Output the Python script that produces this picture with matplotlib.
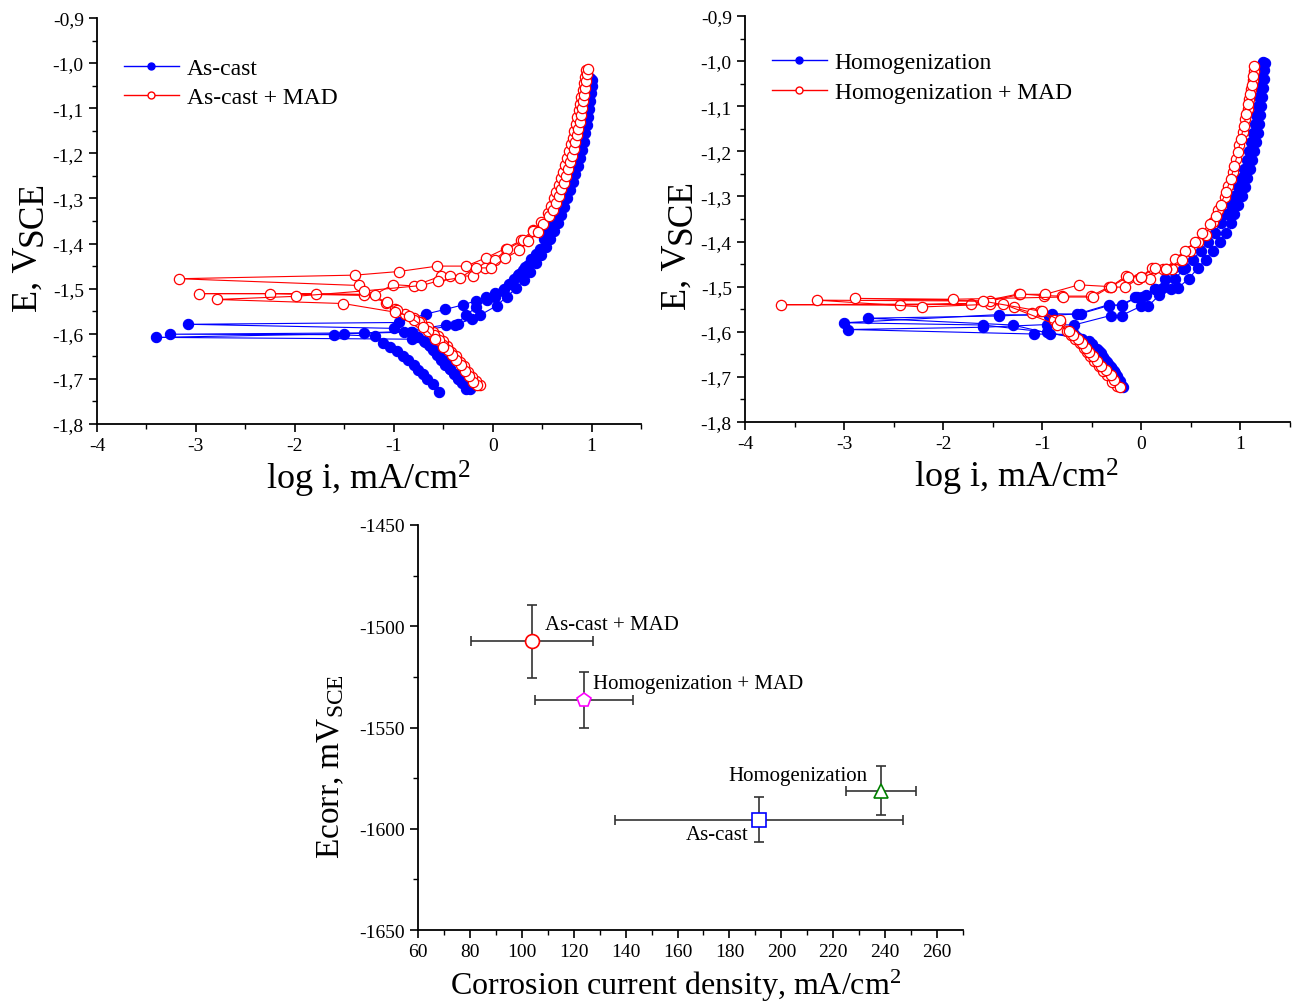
import matplotlib
matplotlib.use("Agg")
import matplotlib.pyplot as plt
from matplotlib.lines import Line2D

plt.rcParams['font.family'] = ['Liberation Serif', 'DejaVu Serif']
plt.rcParams['mathtext.fontset'] = 'custom'
plt.rcParams['mathtext.rm'] = 'Liberation Serif'
plt.rcParams['mathtext.it'] = 'Liberation Serif:italic'

# ---------------- Data: As-cast (blue) ----------------
ascast_run1_logi = [-0.27, -0.31, -0.34, -0.38, -0.43, -0.46, -0.50, -0.54, -0.59, -0.63, -0.68, -0.75, -0.83, -1.0, -3.08,
                    -0.95, -0.67, -0.48, -0.30, -0.17, -0.07, 0.02, 0.11, 0.17, 0.22, 0.27, 0.31, 0.36, 0.40, 0.44, 0.48,
                    0.52, 0.55, 0.585, 0.615, 0.645, 0.67, 0.695, 0.72, 0.745, 0.77, 0.79, 0.81, 0.83, 0.845, 0.86, 0.875,
                    0.89, 0.905, 0.92, 0.93, 0.94, 0.95, 0.96, 0.97, 0.985]
ascast_run1_E = [-1.722, -1.710, -1.700, -1.689, -1.678, -1.668, -1.659, -1.648, -1.637, -1.627, -1.618, -1.607, -1.596, -1.588, -1.579,
                 -1.575, -1.556, -1.546, -1.536, -1.527, -1.518, -1.509, -1.500, -1.489, -1.478, -1.468, -1.459, -1.448, -1.437, -1.424, -1.411,
                 -1.389, -1.375, -1.360, -1.345, -1.330, -1.315, -1.300, -1.285, -1.270, -1.255, -1.240, -1.225, -1.210, -1.195, -1.180, -1.165,
                 -1.150, -1.135, -1.120, -1.105, -1.090, -1.075, -1.060, -1.045, -1.033]

ascast_run2_logi = [-0.54, -0.60, -0.66, -0.70, -0.75, -0.80, -0.86, -0.91, -0.97, -1.04, -1.11, -1.19, -1.6, -3.26,
                    -1.3, -0.90, -0.47, -0.35, -0.21, -0.13, 0.04, 0.14, 0.24, 0.32, 0.38, 0.44, 0.49, 0.54, 0.58, 0.62,
                    0.66, 0.69, 0.725, 0.755, 0.785, 0.81, 0.835, 0.86, 0.88, 0.90, 0.92, 0.935, 0.95, 0.965, 0.975,
                    0.985, 0.995, 1.0, 1.005]
ascast_run2_E = [-1.728, -1.712, -1.700, -1.690, -1.681, -1.670, -1.659, -1.649, -1.639, -1.630, -1.620, -1.605, -1.602, -1.601,
                 -1.598, -1.595, -1.580, -1.578, -1.567, -1.559, -1.538, -1.518, -1.499, -1.480, -1.462, -1.444, -1.426, -1.408, -1.390, -1.372,
                 -1.354, -1.336, -1.318, -1.300, -1.282, -1.264, -1.246, -1.228, -1.210, -1.192, -1.174, -1.156, -1.138, -1.120, -1.102,
                 -1.084, -1.066, -1.050, -1.038]

ascast_run3_logi = [-0.23, -0.28, -0.35, -0.39, -0.43, -0.48, -0.52, -0.56, -0.60, -0.64, -0.69, -0.82, -3.40,
                    -1.5, -0.82, -0.38, -0.27, -0.165, -0.06, 0.02, 0.10, 0.19, 0.26, 0.33, 0.39]
ascast_run3_E = [-1.722, -1.712, -1.700, -1.690, -1.679, -1.669, -1.659, -1.648, -1.637, -1.626, -1.615, -1.612, -1.608,
                 -1.600, -1.596, -1.581, -1.559, -1.541, -1.525, -1.518, -1.505, -1.489, -1.470, -1.452, -1.435]

# ---------------- Data: As-cast + MAD (red) ----------------
ascast_mad_run1_logi = [-0.13, -0.17, -0.21, -0.25, -0.29, -0.33, -0.37, -0.42, -0.46, -0.50, -0.55, -0.60, -0.65, -0.72,
                        -0.80, -0.89, -0.99, -1.08, -1.35, -3.17,
                        -1.39, -0.95, -0.56, -0.27, -0.07, 0.13, 0.29, 0.41, 0.49, 0.56, 0.59, 0.62, 0.645, 0.67, 0.69,
                        0.71, 0.735, 0.755, 0.775, 0.79, 0.81, 0.825, 0.84, 0.855, 0.87, 0.885, 0.895, 0.91, 0.92, 0.93, 0.94]
ascast_mad_run1_E = [-1.713, -1.705, -1.695, -1.684, -1.672, -1.662, -1.650, -1.640, -1.628, -1.617, -1.606, -1.595, -1.585, -1.575,
                     -1.566, -1.556, -1.546, -1.531, -1.493, -1.478,
                     -1.470, -1.462, -1.450, -1.450, -1.432, -1.411, -1.393, -1.370, -1.352, -1.333, -1.316, -1.300, -1.285, -1.270, -1.255,
                     -1.241, -1.225, -1.210, -1.195, -1.180, -1.165, -1.150, -1.135, -1.120, -1.105, -1.090, -1.075, -1.060, -1.045, -1.030, -1.015]

ascast_mad_run2_logi = [-0.16, -0.20, -0.24, -0.28, -0.32, -0.37, -0.41, -0.45, -0.50, -0.54, -0.59, -0.65, -0.74, -0.80,
                        -0.97, -1.07, -1.30, -2.25, -2.97,
                        -1.79, -1.19, -1.01, -0.80, -0.52, -0.43, -0.20, -0.08, 0.02, 0.14, 0.31, 0.41, 0.51, 0.57,
                        0.61, 0.64, 0.67, 0.695, 0.72, 0.74, 0.76, 0.78, 0.80, 0.82, 0.835, 0.85, 0.865, 0.88, 0.895,
                        0.905, 0.915, 0.925, 0.935, 0.945, 0.955, 0.96]
ascast_mad_run2_E = [-1.713, -1.707, -1.694, -1.682, -1.670, -1.658, -1.648, -1.637, -1.626, -1.614, -1.603, -1.593, -1.574, -1.570,
                     -1.548, -1.530, -1.515, -1.511, -1.511,
                     -1.511, -1.513, -1.491, -1.494, -1.472, -1.472, -1.472, -1.454, -1.437, -1.413, -1.393, -1.373, -1.356, -1.340,
                     -1.325, -1.310, -1.295, -1.280, -1.265, -1.250, -1.235, -1.220, -1.205, -1.190, -1.175, -1.160, -1.145, -1.130, -1.115,
                     -1.100, -1.085, -1.070, -1.055, -1.040, -1.025, -1.012]

ascast_mad_run3_logi = [-0.50, -0.58, -0.70, -0.85, -0.99, -1.51, -2.79, -1.99, -1.30, -0.72, -0.55, -0.33, -0.17,
                        -0.013, 0.12, 0.27, 0.36, 0.46]
ascast_mad_run3_E = [-1.630, -1.612, -1.585, -1.560, -1.552, -1.533, -1.524, -1.517, -1.505, -1.493, -1.483, -1.476, -1.454,
                     -1.454, -1.433, -1.415, -1.395, -1.374]

# ---------------- Data: Homogenization (blue) ----------------
homog_run1_logi = [-0.18, -0.22, -0.25, -0.28, -0.31, -0.35, -0.39, -0.43, -0.48, -0.53, -0.63, -0.95, -1.6, -3.0,
                   -1.44, -0.935, -0.61, -0.33, -0.20, -0.06, 0.05, 0.14, 0.23, 0.34, 0.44, 0.52, 0.60, 0.67, 0.74,
                   0.80, 0.85, 0.90, 0.94, 0.98, 1.01, 1.04, 1.065, 1.09, 1.11, 1.13, 1.145, 1.16, 1.175, 1.185, 1.195,
                   1.205, 1.215, 1.225]
homog_run1_E = [-1.722, -1.710, -1.697, -1.688, -1.679, -1.668, -1.655, -1.642, -1.635, -1.620, -1.616, -1.601, -1.585, -1.580,
                -1.562, -1.564, -1.560, -1.542, -1.540, -1.524, -1.519, -1.505, -1.500, -1.482, -1.459, -1.440, -1.420, -1.400, -1.380,
                -1.360, -1.340, -1.320, -1.300, -1.280, -1.260, -1.240, -1.220, -1.200, -1.180, -1.160, -1.140, -1.120, -1.100, -1.080, -1.060,
                -1.040, -1.020, -1.003]

homog_run2_logi = [-0.20, -0.24, -0.27, -0.30, -0.33, -0.37, -0.41, -0.45, -0.50, -0.60, -0.68, -1.085, -2.96,
                   -1.6, -0.95, -0.68, -0.31, -0.20, 0.0, 0.07, 0.18, 0.30, 0.37, 0.48, 0.57, 0.65, 0.72, 0.79, 0.85,
                   0.90, 0.94, 0.98, 1.015, 1.045, 1.07, 1.095, 1.12, 1.14, 1.16, 1.175, 1.19, 1.20, 1.21, 1.22, 1.23,
                   1.235, 1.24, 1.245]
homog_run2_E = [-1.720, -1.704, -1.692, -1.683, -1.673, -1.662, -1.648, -1.638, -1.627, -1.617, -1.606, -1.605, -1.595,
                -1.590, -1.584, -1.585, -1.564, -1.564, -1.543, -1.543, -1.519, -1.505, -1.503, -1.482, -1.459, -1.440, -1.420, -1.400, -1.380,
                -1.360, -1.340, -1.320, -1.300, -1.280, -1.260, -1.240, -1.220, -1.200, -1.180, -1.160, -1.140, -1.120, -1.100, -1.080, -1.060,
                -1.040, -1.020, -1.005]

homog_run3_logi = [-0.45, -0.52, -0.65, -0.92, -1.3, -2.76, -1.44, -0.90, -0.65, -0.33, -0.20, -0.04, 0.004, 0.14, 0.20,
                   0.24, 0.42]
homog_run3_E = [-1.640, -1.625, -1.612, -1.604, -1.585, -1.570, -1.565, -1.560, -1.561, -1.540, -1.542, -1.523, -1.524, -1.505,
                -1.505, -1.483, -1.461]

# ---------------- Data: Homogenization + MAD (red) ----------------
homog_mad_run1_logi = [-0.25, -0.30, -0.35, -0.39, -0.43, -0.48, -0.52, -0.55, -0.58, -0.62, -0.67, -0.71, -0.75, -0.82,
                       -0.88, -1.02, -1.10, -1.29, -1.53, -3.64,
                       -2.44, -1.72, -1.236, -0.985, -0.80, -0.51, -0.33, -0.16, -0.03, 0.087, 0.22, 0.305, 0.39, 0.49,
                       0.57, 0.65, 0.72, 0.774, 0.84, 0.874, 0.925, 0.958, 0.99, 1.025, 1.05, 1.075, 1.09, 1.11, 1.125, 1.135]
homog_mad_run1_E = [-1.720, -1.712, -1.696, -1.686, -1.675, -1.664, -1.653, -1.644, -1.635, -1.626, -1.616, -1.607, -1.598, -1.579,
                    -1.575, -1.555, -1.558, -1.546, -1.538, -1.540,
                    -1.541, -1.538, -1.516, -1.520, -1.521, -1.521, -1.501, -1.501, -1.482, -1.482, -1.461, -1.461, -1.442, -1.420,
                    -1.400, -1.385, -1.357, -1.331, -1.302, -1.276, -1.246, -1.217, -1.187, -1.158, -1.128, -1.106, -1.084, -1.062, -1.043, -1.021]

homog_mad_run2_logi = [-0.22, -0.28, -0.31, -0.36, -0.41, -0.45, -0.49, -0.53, -0.56, -0.60, -0.64, -0.69, -0.73, -0.85,
                       -1.40, -2.21, -3.27,
                       -1.53, -1.22, -0.97, -0.63, -0.31, -0.15, 0.0, 0.104, 0.25, 0.34, 0.44, 0.54, 0.61, 0.69, 0.75,
                       0.80, 0.855, 0.90, 0.94, 0.975, 1.005, 1.035, 1.06, 1.08, 1.10, 1.115, 1.13, 1.14]
homog_mad_run2_E = [-1.722, -1.708, -1.696, -1.685, -1.675, -1.664, -1.653, -1.644, -1.635, -1.626, -1.616, -1.607, -1.598, -1.585,
                    -1.538, -1.545, -1.530,
                    -1.532, -1.517, -1.517, -1.496, -1.500, -1.476, -1.478, -1.459, -1.460, -1.439, -1.420, -1.402, -1.380, -1.361, -1.344,
                    -1.318, -1.290, -1.262, -1.232, -1.202, -1.172, -1.143, -1.117, -1.095, -1.073, -1.052, -1.032, -1.012]

homog_mad_run3_logi = [-0.82, -1.0, -1.6, -2.89, -1.9, -0.79, -0.49, -0.31, -0.13, 0.0, 0.14, 0.25, 0.41]
homog_mad_run3_E = [-1.575, -1.555, -1.532, -1.526, -1.528, -1.523, -1.523, -1.500, -1.478, -1.478, -1.458, -1.460, -1.441]

# ---------------- Data: summary (bottom) ----------------
summary_labels = ["As-cast + MAD", "Homogenization + MAD", "Homogenization", "As-cast"]
summary_icorr = [104.0, 123.9, 238.4, 191.4]
summary_icorr_err = [23.5, 19.0, 13.4, 55.5]
summary_ecorr = [-1507.4, -1536.4, -1581.2, -1595.5]
summary_ecorr_err = [18.0, 14.0, 12.0, 11.0]
summary_markers = ['o', 'p', '^', 's']
summary_colors = ['#ff0000', '#ff00ff', '#008000', '#0000ff']

# tick values / labels
e_ticks = [-0.9, -1.0, -1.1, -1.2, -1.3, -1.4, -1.5, -1.6, -1.7, -1.8]
e_tick_labels = ["-0,9", "-1,0", "-1,1", "-1,2", "-1,3", "-1,4", "-1,5", "-1,6", "-1,7", "-1,8"]
logi_ticks = [-4, -3, -2, -1, 0, 1]
logi_tick_labels = ["-4", "-3", "-2", "-1", "0", "1"]
ecorr_ticks = [-1450, -1500, -1550, -1600, -1650]
ecorr_tick_labels = ["-1450", "-1500", "-1550", "-1600", "-1650"]
icorr_ticks = [60, 80, 100, 120, 140, 160, 180, 200, 220, 240, 260]
icorr_tick_labels = [str(v) for v in icorr_ticks]

BLUE = '#0000ff'
RED = '#ff0000'
TICK_FS = 14
W, H = 1295, 1004

fig = plt.figure(figsize=(12.95, 10.04), dpi=100)


def style_axes(ax):
    for s in ['top', 'right']:
        ax.spines[s].set_visible(False)
    for s in ['left', 'bottom']:
        ax.spines[s].set_linewidth(1.3)
    ax.tick_params(which='major', direction='out', length=6, width=1.2, labelsize=TICK_FS)
    ax.tick_params(which='minor', direction='out', length=3.5, width=1.0)


def polar_axes(rect, blue_runs, red_runs, labels, leg_anchor, spacing):
    ax = fig.add_axes(rect)
    for lx, ey in blue_runs:
        ax.plot(lx, ey, '-', color=BLUE, lw=0.8, marker='o', ms=7.4,
                mfc=BLUE, mec=BLUE, mew=0.8)
    for lx, ey in red_runs:
        ax.plot(lx, ey, '-', color=RED, lw=0.8, marker='o', ms=7.4,
                mfc='white', mec=RED, mew=0.9)
    ax.set_xlim(-4, 1.495)
    ax.set_ylim(-1.8, -0.9)
    ax.set_xticks(logi_ticks)
    ax.set_xticklabels(logi_tick_labels)
    ax.set_xticks([-3.5, -2.5, -1.5, -0.5, 0.5, 1.5], minor=True)
    ax.set_yticks(e_ticks)
    ax.set_yticklabels(e_tick_labels)
    ax.set_yticks([-0.95, -1.05, -1.15, -1.25, -1.35, -1.45, -1.55, -1.65, -1.75], minor=True)
    style_axes(ax)
    handles = [Line2D([], [], color=BLUE, lw=1.0, marker='o', ms=5, mfc=BLUE, mec=BLUE),
               Line2D([], [], color=RED, lw=1.0, marker='o', ms=5, mfc='white', mec=RED)]
    ax.legend(handles, labels, loc='upper left', bbox_to_anchor=leg_anchor, frameon=False,
              fontsize=17, handlelength=2.3, handletextpad=0.35, borderpad=0, borderaxespad=0,
              labelspacing=spacing)
    return ax


ax1 = polar_axes([0.0749, 0.5767, 0.4201, 0.4044],
                 [(ascast_run1_logi, ascast_run1_E), (ascast_run2_logi, ascast_run2_E),
                  (ascast_run3_logi, ascast_run3_E)],
                 [(ascast_mad_run1_logi, ascast_mad_run1_E), (ascast_mad_run2_logi, ascast_mad_run2_E),
                  (ascast_mad_run3_logi, ascast_mad_run3_E)],
                 ["As-cast", "As-cast + MAD"], (0.05, 0.903), 0.33)

ax2 = polar_axes([0.5753, 0.5787, 0.4208, 0.4044],
                 [(homog_run1_logi, homog_run1_E), (homog_run2_logi, homog_run2_E),
                  (homog_run3_logi, homog_run3_E)],
                 [(homog_mad_run1_logi, homog_mad_run1_E), (homog_mad_run2_logi, homog_mad_run2_E),
                  (homog_mad_run3_logi, homog_mad_run3_E)],
                 ["Homogenization", "Homogenization + MAD"], (0.05, 0.913), 0.37)


def vlabel_two_part(x_px, y_bottom_px, main, sub, fs_main, fs_sub, dx):
    t1 = fig.text(x_px / W, 1 - y_bottom_px / H, main, rotation=90, ha='center', va='bottom',
                  fontsize=fs_main)
    fig.canvas.draw()
    bb = t1.get_window_extent()
    fig.text((x_px + dx) / W, (bb.y1 + 1) / H, sub, rotation=90, ha='center', va='bottom',
             fontsize=fs_sub)


# axis labels of top panels
vlabel_two_part(28, 312, 'E, V', 'SCE', 26, 25.5, 5)
vlabel_two_part(677, 310, 'E, V', 'SCE', 26, 25.5, 5)
fig.text(369 / W, 1 - 479 / H, r'log i, mA/cm$^{2}$', ha='center', va='center', fontsize=26)
fig.text(1017 / W, 1 - 477 / H, r'log i, mA/cm$^{2}$', ha='center', va='center', fontsize=26)

# ---------------- bottom panel ----------------
ax3 = fig.add_axes([0.3228, 0.0727, 0.4208, 0.4034])
for i in range(len(summary_labels)):
    ax3.errorbar(summary_icorr[i], summary_ecorr[i], xerr=summary_icorr_err[i], yerr=summary_ecorr_err[i],
                 fmt='none', ecolor='#333333', elinewidth=1.2, capsize=3.5, capthick=1.2, zorder=2)
    ax3.plot(summary_icorr[i], summary_ecorr[i], linestyle='none', marker=summary_markers[i], ms=10,
             mfc='white', mec=summary_colors[i], mew=1.2, zorder=3)

ax3.text(108.9, -1498.9, summary_labels[0], ha='left', va='center', fontsize=15)
ax3.text(127.4, -1528.5, summary_labels[1], ha='left', va='center', fontsize=15)
ax3.text(233.4, -1573.5, summary_labels[2], ha='right', va='center', fontsize=15)
ax3.text(187.2, -1603.0, summary_labels[3], ha='right', va='center', fontsize=15)

ax3.set_xlim(60, 270)
ax3.set_ylim(-1650, -1450)
ax3.set_xticks(icorr_ticks)
ax3.set_xticklabels(icorr_tick_labels)
ax3.set_xticks([70, 90, 110, 130, 150, 170, 190, 210, 230, 250, 270], minor=True)
ax3.set_yticks(ecorr_ticks)
ax3.set_yticklabels(ecorr_tick_labels)
ax3.set_yticks([-1475, -1525, -1575, -1625], minor=True)
style_axes(ax3)

fig.text(676 / W, 1 - 986 / H, r'Corrosion current density, mA/cm$^{2}$', ha='center', va='center', fontsize=23)
fig.text(331 / W, 1 - 767 / H, r'Ecorr, mV$_{\mathrm{SCE}}$', rotation=90, ha='center', va='center', fontsize=24)

fig.savefig('out.png', dpi=100)
